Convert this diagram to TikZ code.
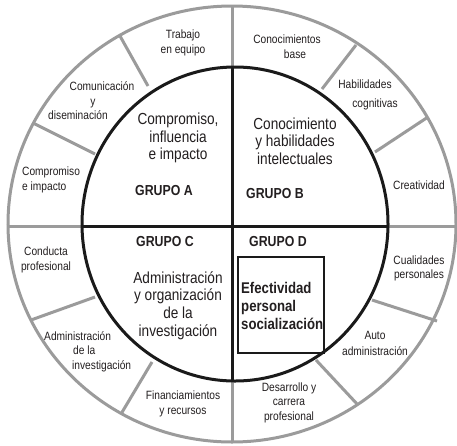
\documentclass[tikz,border=0pt]{standalone}
\usepackage{fontspec}
\setmainfont{Liberation Sans}[FakeStretch=0.85]
\definecolor{ringgray}{HTML}{9B9B9B}
\definecolor{coreblack}{HTML}{1A1A1A}
\definecolor{txt}{HTML}{231F20}
\begin{document}
\begin{tikzpicture}[x=1pt,y=-1pt,
  ring/.style={draw=ringgray,line width=3pt},
  core/.style={draw=coreblack,line width=3pt},
  small/.style={font=\fontsize{12}{14.5}\selectfont,text=txt,align=center,inner sep=0pt},
  big/.style={font=\fontsize{16}{17.7}\selectfont,text=txt,align=center,inner sep=0pt},
  grp/.style={font=\bfseries\fontsize{14.5}{17}\selectfont,text=txt,inner sep=0pt},
  eff/.style={font=\bfseries\fontsize{15.5}{18}\selectfont,text=txt,align=left,inner sep=0pt},
]
\useasboundingbox[fill=white] (0,0) rectangle (457,445);
\coordinate (O) at (232,224);
\coordinate (I) at (235,224);
% grey cross (ring part)
\draw[ring] (8,226) -- (456,226);
\draw[ring] (232,6) -- (232,442);
% black cross inside inner circle
\begin{scope}
  \clip (I) ellipse [x radius=153, y radius=157];
  \draw[core] (0,226) -- (457,226);
  \draw[core] (232,0) -- (232,445);
\end{scope}
% dividers
\coordinate (d1o) at (120,36);  \coordinate (d1i) at (148,86);
\coordinate (d2o) at (33,123);  \coordinate (d2i) at (95,154);
\coordinate (d3o) at (356,45);  \coordinate (d3i) at (322,89);
\coordinate (d4o) at (428,117); \coordinate (d4i) at (375,152);
\coordinate (d5o) at (31,320);  \coordinate (d5i) at (95,297);
\coordinate (d6o) at (121,414); \coordinate (d6i) at (152,362);
\coordinate (d7o) at (437,321); \coordinate (d7i) at (372,300);
\coordinate (d8o) at (358,405); \coordinate (d8i) at (316,360);
\foreach \k in {1,...,8} \draw[ring] (d\k o) -- (d\k i);
% circles
\draw[ring] (O) ellipse [x radius=224, y radius=218];
\draw[core] (I) ellipse [x radius=153, y radius=157];
% outer ring labels
\node[small] (trab) at (183,43) {Trabajo\\en equipo};
\node[small] (comu) at (91,101) {\hspace*{22pt}Comunicación\\\hspace*{4pt}y\\diseminación\hspace*{26pt}};
\node[small,align=left,anchor=west] (compi) at (22,180) {Compromiso\\e impacto};
\node[small] (cbase) at (287,46.5) {Conocimientos\\\hspace*{16pt}base};
\node[small,font=\fontsize{12}{19}\selectfont] (habc) at (365,94.5) {Habilidades\\\hspace*{20pt}cognitivas};
\node[small] (crea) at (419,185) {Creatividad};
\node[small,font=\fontsize{12}{15}\selectfont] (cond) at (46,260) {Conducta\\profesional};
\node[small,align=left,anchor=west] (admi) at (44,351.5) {Administración\\\hspace*{29pt}de la\\\hspace*{28pt}investigación};
\node[small,font=\fontsize{12}{15}\selectfont] (fina) at (183,403.5) {Financiamientos\\y recursos};
\node[small,font=\fontsize{12}{14}\selectfont] (cual) at (419,268) {Cualidades\\personales};
\node[small,font=\fontsize{12}{16}\selectfont] (auto) at (375,343) {Auto\\administración};
\node[small] (desa) at (289,402.5) {Desarrollo y\\carrera\\profesional};
% inner labels
\node[big] (ta) at (178,138) {Compromiso,\\influencia\\e impacto};
\node[grp] (ga) at (164,191) {GRUPO A};
\node[big] (tb) at (295,141) {Conocimiento\\y habilidades\\intelectuales};
\node[grp] (gb) at (275,194) {GRUPO B};
\node[grp] (gc) at (165,242) {GRUPO C};
\node[big] (tc) at (178,305.5) {Administración\\y organización\\de la\\investigación};
\node[grp] (gd) at (278,242) {GRUPO D};
\node[draw=coreblack,line width=1.6pt,minimum width=86pt,minimum height=96pt,inner sep=0pt] (box) at (281,305) {};
\node[eff,anchor=west] (td) at (241,306) {Efectividad\\personal\\socialización};
\end{tikzpicture}
\end{document}
